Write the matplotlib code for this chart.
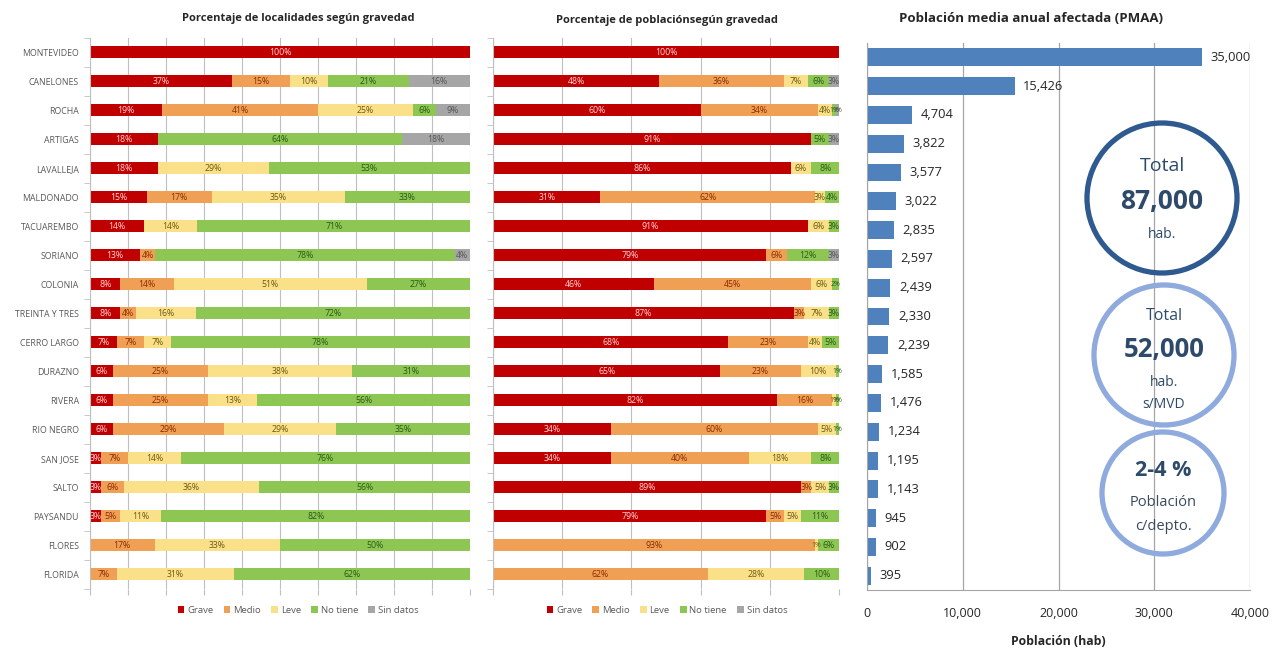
import numpy as np
import matplotlib.pyplot as plt
from matplotlib.patches import Circle, Patch

plt.rcParams['font.family'] = ['Open Sans', 'DejaVu Sans']

# ------------------------------------------------
# Datos
# ------------------------------------------------
deptos = ['MONTEVIDEO', 'CANELONES', 'ROCHA', 'ARTIGAS', 'LAVALLEJA', 'MALDONADO',
          'TACUAREMBO', 'SORIANO', 'COLONIA', 'TREINTA Y TRES', 'CERRO LARGO',
          'DURAZNO', 'RIVERA', 'RIO NEGRO', 'SAN JOSE', 'SALTO', 'PAYSANDU',
          'FLORES', 'FLORIDA']
categorias = ['Grave', 'Medio', 'Leve', 'No tiene', 'Sin datos']

# porcentaje de localidades
loc_grave = [100, 37, 19, 18, 18, 15, 14, 13, 8, 8, 7, 6, 6, 6, 3, 3, 3, 0, 0]
loc_medio = [0, 15, 41, 0, 0, 17, 0, 4, 14, 4, 7, 25, 25, 29, 7, 6, 5, 17, 7]
loc_leve = [0, 10, 25, 0, 29, 35, 14, 0, 51, 16, 7, 38, 13, 29, 14, 36, 11, 33, 31]
loc_no_tiene = [0, 21, 6, 64, 53, 33, 71, 78, 27, 72, 78, 31, 56, 35, 76, 56, 82, 50, 62]
loc_sin_datos = [0, 16, 9, 18, 0, 0, 0, 4, 0, 0, 0, 0, 0, 0, 0, 0, 0, 0, 0]

# porcentaje de poblacion
pob_grave = [100, 48, 60, 91, 86, 31, 91, 79, 46, 87, 68, 65, 82, 34, 34, 89, 79, 0, 0]
pob_medio = [0, 36, 34, 0, 0, 62, 0, 6, 45, 3, 23, 23, 16, 60, 40, 3, 5, 93, 62]
pob_leve = [0, 7, 4, 0, 6, 3, 6, 0, 6, 7, 4, 10, 1, 5, 18, 5, 5, 1, 28]
pob_no_tiene = [0, 6, 1, 5, 8, 4, 3, 12, 2, 3, 5, 1, 1, 1, 8, 3, 11, 6, 10]
pob_sin_datos = [0, 3, 1, 3, 0, 0, 0, 3, 0, 0, 0, 0, 0, 0, 0, 0, 0, 0, 0]

# poblacion media anual afectada
pmaa = [35000, 15426, 4704, 3822, 3577, 3022, 2835, 2597, 2439, 2330, 2239,
        1585, 1476, 1234, 1195, 1143, 945, 902, 395]

colores = ['#C00000', '#F0A055', '#FBE08A', '#8DC653', '#A6A6A6']
col_texto = ['#FFD5D5', '#8B2A00', '#6B5A10', '#2A5A14', '#555555']
gris = '#BFBFBF'

fig = plt.figure(figsize=(12.85, 6.5), dpi=100)
y = np.arange(len(deptos))


def apiladas(ax, series, paso):
    datos = np.array(series, dtype=float)
    # las barras llenan el 100% aunque los redondeos no sumen exacto
    escala = 100.0 / datos.sum(axis=0)
    izq = np.zeros(len(deptos))
    for k, vals in enumerate(datos):
        ancho = vals * escala
        ax.barh(y, ancho, left=izq, height=0.42, color=colores[k], zorder=2)
        for i, v in enumerate(vals):
            if v > 0:
                fs = 6.3 if v > 2 else 5.0
                ax.text(izq[i] + ancho[i] / 2, i, f'{int(v)}%', ha='center', va='center',
                        fontsize=fs, color=col_texto[k], zorder=3)
        izq += ancho
    ax.set_xlim(0, 100)
    ax.set_ylim(len(deptos) - 0.5, -0.5)
    ax.set_xticks(np.arange(0, 101, paso))
    ax.set_xticklabels([])
    ax.tick_params(axis='x', length=4, color=gris)
    ax.grid(axis='x', color=gris, lw=0.8, zorder=0)
    ax.set_yticks(np.arange(-0.5, len(deptos), 1), minor=True)
    ax.tick_params(axis='y', which='minor', length=4, color=gris)
    ax.tick_params(axis='y', which='major', length=0)
    for s in ['top', 'right', 'bottom']:
        ax.spines[s].set_visible(False)
    ax.spines['left'].set_color(gris)


# grafico 1: localidades
ax1 = fig.add_axes([0.070, 0.094, 0.2957, 0.848])
apiladas(ax1, [loc_grave, loc_medio, loc_leve, loc_no_tiene, loc_sin_datos], 10)
ax1.set_yticks(y)
ax1.set_yticklabels(deptos, fontsize=6.3, color='#595959')
ax1.tick_params(axis='y', pad=8)

# grafico 2: poblacion
ax2 = fig.add_axes([0.3837, 0.094, 0.2693, 0.848])
apiladas(ax2, [pob_grave, pob_medio, pob_leve, pob_no_tiene, pob_sin_datos], 20)
ax2.set_yticks(y)
ax2.set_yticklabels([])

# leyendas
manejadores = [Patch(facecolor=c, edgecolor='none') for c in colores]
for cx in [0.232, 0.519]:
    fig.legend(manejadores, categorias, loc='center', bbox_to_anchor=(cx, 0.061),
               ncol=5, frameon=False, fontsize=6.8, handlelength=0.7,
               handleheight=0.7, handletextpad=0.3, columnspacing=1.1,
               labelcolor='#595959')

# grafico 3: PMAA
ax3 = fig.add_axes([0.6747, 0.092, 0.2981, 0.842])
ax3.barh(y, pmaa, height=0.62, color='#4F81BD', zorder=2)
for i, v in enumerate(pmaa):
    ax3.text(v + 900, i, f'{v:,}', va='center', ha='left', fontsize=9.3, color='#262626')
ax3.set_xlim(0, 40000)
ax3.set_ylim(len(deptos) - 0.5, -0.5)
ax3.set_yticks([])
ax3.set_xticks(np.arange(0, 40001, 10000))
ax3.set_xticklabels([f'{t:,}' for t in range(0, 40001, 10000)], fontsize=9, color='#262626')
ax3.tick_params(axis='x', length=0, pad=12)
ax3.grid(axis='x', color='#A6A6A6', lw=0.9, zorder=0)
for s in ['top', 'right']:
    ax3.spines[s].set_visible(False)
ax3.spines['left'].set_color('#A6A6A6')
ax3.spines['bottom'].set_color('#A6A6A6')
ax3.set_xlabel('Población (hab)', fontsize=8.8, fontweight='bold', color='#262626', labelpad=11)

# titulos
fig.text(0.232, 0.972, 'Porcentaje de localidades según gravedad', ha='center', va='center',
         fontsize=8, fontweight='bold', color='#262626')
fig.text(0.519, 0.968, 'Porcentaje de poblaciónsegún gravedad', ha='center', va='center',
         fontsize=8, fontweight='bold', color='#262626')
fig.text(0.802, 0.972, 'Población media anual afectada (PMAA)', ha='center', va='center',
         fontsize=9.5, fontweight='bold', color='#262626')

# circulos de resumen (en pixeles de la figura)
over = fig.add_axes([0, 0, 1, 1], facecolor='none')
over.set_xlim(0, 1285)
over.set_ylim(650, 0)
over.axis('off')

over.add_patch(Circle((1162, 198), 75, fill=False, ec='#2F5A8F', lw=3.8))
over.text(1162, 166, 'Total', ha='center', va='center', fontsize=14, color='#2E4A6B')
over.text(1162, 201, '87,000', ha='center', va='center', fontsize=19, fontweight='bold', color='#2E4A6B')
over.text(1162, 235, 'hab.', ha='center', va='center', fontsize=10, color='#2E4A6B')

over.add_patch(Circle((1164, 355), 70, fill=False, ec='#8FAADC', lw=3.8))
over.text(1164, 316, 'Total', ha='center', va='center', fontsize=11.5, color='#2E4A6B')
over.text(1164, 349, '52,000', ha='center', va='center', fontsize=18.5, fontweight='bold', color='#2E4A6B')
over.text(1164, 383, 'hab.', ha='center', va='center', fontsize=10, color='#2E4A6B')
over.text(1164, 405, 's/MVD', ha='center', va='center', fontsize=10, color='#2E4A6B')

over.add_patch(Circle((1163, 493), 61, fill=False, ec='#8FAADC', lw=3.8))
over.text(1163, 471, '2-4 %', ha='center', va='center', fontsize=15.5, fontweight='bold', color='#2E4A6B')
over.text(1163, 503, 'Población', ha='center', va='center', fontsize=10.5, color='#3A4A5E')
over.text(1163, 526, 'c/depto.', ha='center', va='center', fontsize=10.5, color='#3A4A5E')

fig.savefig('out.png', dpi=100)
